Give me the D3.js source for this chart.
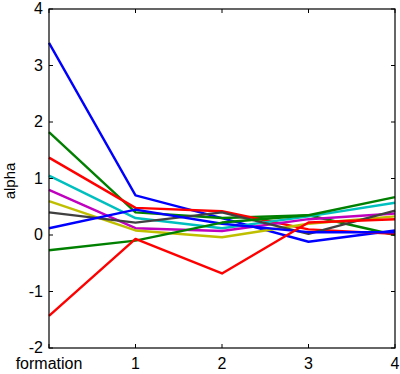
<!DOCTYPE html>
<html><head><meta charset="utf-8">
<script src="https://cdn.jsdelivr.net/npm/d3@7"></script>
<style>body{margin:0;background:#fff}svg{display:block}</style>
</head><body>
<script>
const categories = ["formation", "1", "2", "3", "4"];
const yTicks = [-2, -1, 0, 1, 2, 3, 4];
const colors = ["#0000ff", "#008000", "#ff0000", "#00bfbf", "#bf00bf", "#bfbf00", "#404040", "#0000ff", "#008000", "#ff0000"];
const s1 = [3.4, 0.7, 0.3, -0.12, 0.08];
const s2 = [1.82, 0.4, 0.3, 0.35, 0.0];
const s3 = [1.37, 0.48, 0.42, 0.1, 0.02];
const s4 = [1.05, 0.3, 0.12, 0.33, 0.57];
const s5 = [0.8, 0.12, 0.07, 0.28, 0.38];
const s6 = [0.6, 0.08, -0.04, 0.2, 0.33];
const s7 = [0.4, 0.22, 0.4, 0.02, 0.43];
const s8 = [0.12, 0.45, 0.2, 0.05, 0.05];
const s9 = [-0.27, -0.1, 0.22, 0.35, 0.67];
const s10 = [-1.43, -0.07, -0.68, 0.22, 0.28];
const series = [s1, s2, s3, s4, s5, s6, s7, s8, s9, s10];

const W = 400, H = 374;
const svg = d3.select("body").append("svg").attr("width", W).attr("height", H);
const x = d3.scaleLinear().domain([0, categories.length - 1]).range([49, 395]);
const y = d3.scaleLinear().domain([-2, 4]).range([348, 9]);
const font = "'Liberation Sans', Arial, sans-serif";

const line = d3.line().x((d, i) => x(i)).y(d => y(d));
series.forEach((s, k) => {
  svg.append("path").datum(s).attr("d", line)
    .attr("fill", "none").attr("stroke", colors[k]).attr("stroke-width", 2.4)
    .attr("stroke-linejoin", "round");
});

// box
const g = svg.append("g").attr("stroke", "#000").attr("fill", "none");
g.append("rect").attr("x", x(0)).attr("y", y(4)).attr("width", x(4) - x(0)).attr("height", y(-2) - y(4)).attr("stroke-width", 1.2);
const tl = 4;
categories.forEach((c, i) => {
  g.append("line").attr("x1", x(i)).attr("x2", x(i)).attr("y1", y(-2)).attr("y2", y(-2) - tl);
  g.append("line").attr("x1", x(i)).attr("x2", x(i)).attr("y1", y(4)).attr("y2", y(4) + tl);
});
yTicks.forEach(t => {
  g.append("line").attr("x1", x(0)).attr("x2", x(0) + tl).attr("y1", y(t)).attr("y2", y(t));
  g.append("line").attr("x1", x(4)).attr("x2", x(4) - tl).attr("y1", y(t)).attr("y2", y(t));
});

svg.append("g").selectAll("text").data(yTicks).join("text")
  .attr("x", 43).attr("y", d => y(d)).attr("dy", "0.33em")
  .attr("text-anchor", "end").attr("font-family", font).attr("font-size", 16)
  .text(d => d);
svg.append("g").selectAll("text").data(categories).join("text")
  .attr("x", (d, i) => x(i)).attr("y", 369)
  .attr("text-anchor", "middle").attr("font-family", font).attr("font-size", 16)
  .text(d => d);
svg.append("text").attr("transform", "translate(15,181) rotate(-90)")
  .attr("text-anchor", "middle").attr("font-family", font).attr("font-size", 15)
  .text("alpha");
</script>
</body></html>
